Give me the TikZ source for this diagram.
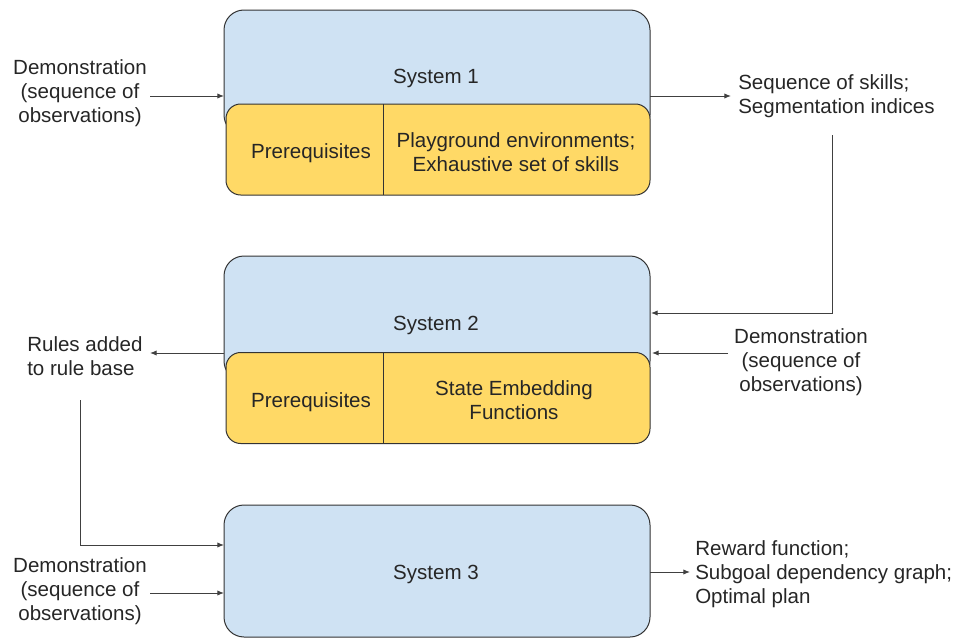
\documentclass[tikz,border=0pt]{standalone}
\usepackage{fontspec}
\setmainfont{Liberation Sans}
\usetikzlibrary{arrows.meta,calc}
\definecolor{sysblue}{HTML}{CFE2F3}
\definecolor{preyellow}{HTML}{FFD966}
\definecolor{edge}{HTML}{333333}
\definecolor{wire}{HTML}{404040}
\tikzset{
  sysbox/.style={draw=edge, line width=0.75pt, fill=sysblue, rounded corners=15pt, minimum width=319.5pt, inner sep=0pt},
  prebox/.style={draw=edge, line width=0.75pt, fill=preyellow, rounded corners=11pt, minimum width=318pt, minimum height=68.25pt, inner sep=0pt},
  txt/.style={font=\fontsize{15.4}{18}\selectfont, text=black!85, inner sep=0pt, align=center, yshift=-1.5pt},
  ltxt/.style={txt, align=left, anchor=west},
  arr/.style={draw=wire, line width=0.75pt, -{Latex[length=5pt,width=4pt]}},
  wireline/.style={draw=wire, line width=0.75pt},
}
\begin{document}
\begin{tikzpicture}[x=0.75pt, y=-0.75pt]
\useasboundingbox (0,0) rectangle (958,639);
% ---------- System 1 ----------
\node[sysbox, minimum height=93.75pt] (s1) at (437,72.5) {};
\node[prebox] (p1) at (438,149.5) {};
\draw[edge, line width=0.75pt] (383,104) -- (383,195);
\node[txt] (s1t) at (436,76) {System 1};
\node[txt] (p1a) at (311,151) {Prerequisites};
\node[txt] (p1b) at (516,150) {Playground environments;\\Exhaustive set of skills};
% inputs / outputs
\node[txt] (d1) at (80,91) {Demonstration\\(sequence of\\observations)};
\coordinate (d1o) at (150,96);
\coordinate (s1i) at (224,96);
\draw[arr] (d1o) -- (s1i);
\coordinate (s1o) at (650,96);
\coordinate (q1i) at (731,96);
\draw[arr] (s1o) -- (q1i);
\node[ltxt] (q1) at (738,94) {Sequence of skills;\\Segmentation indices};
% ---------- System 2 ----------
\node[sysbox, minimum height=93.75pt] (s2) at (437,318.5) {};
\node[prebox] (p2) at (438,398) {};
\draw[edge, line width=0.75pt] (383,353) -- (383,443);
\node[txt] (s2t) at (436,323) {System 2};
\node[txt] (p2a) at (311,400) {Prerequisites};
\node[txt] (p2b) at (514,398) {State Embedding\\Functions};
\coordinate (q1d) at (832,135);
\coordinate (s2r) at (651,313);
\draw[arr] (q1d) |- (s2r);
\node[txt] (d2) at (801,360) {Demonstration\\(sequence of\\observations)};
\coordinate (d2o) at (728,353);
\coordinate (s2i) at (652,353);
\draw[arr] (d2o) -- (s2i);
\node[ltxt] (r2) at (27,354) {Rules added\\to rule base};
\coordinate (s2o) at (224,353);
\coordinate (r2i) at (150,353);
\draw[arr] (s2o) -- (r2i);
% ---------- System 3 ----------
\node[sysbox, minimum height=99pt] (s3) at (437,571) {};
\node[txt] (s3t) at (436,572) {System 3};
\coordinate (r2d) at (80,400);
\coordinate (s3a) at (224,545);
\draw[arr] (r2d) |- (s3a);
\node[txt] (d3) at (80,589) {Demonstration\\(sequence of\\observations)};
\coordinate (d3o) at (150,593);
\coordinate (s3b) at (224,593);
\draw[arr] (d3o) -- (s3b);
\coordinate (s3o) at (650,572);
\coordinate (o3i) at (690,572);
\draw[arr] (s3o) -- (o3i);
\node[ltxt] (o3) at (695,572) {Reward function;\\Subgoal dependency graph;\\Optimal plan};
\end{tikzpicture}
\end{document}
